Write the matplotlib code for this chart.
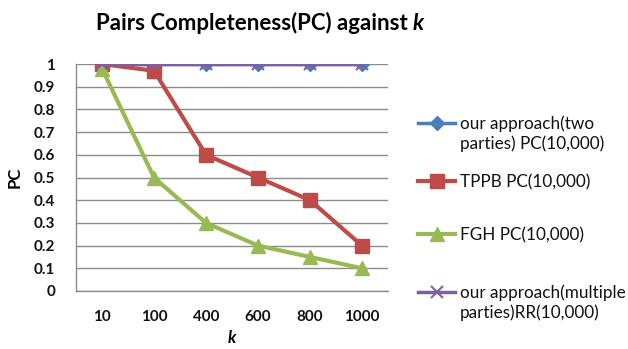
import matplotlib.pyplot as plt
from matplotlib.lines import Line2D
import numpy as np

# PC values per k for each method
k_labels = ["10", "100", "400", "600", "800", "1000"]
two_parties = [1, 1, 1, 1, 1, 1]
tppb = [1, 0.97, 0.6, 0.5, 0.4, 0.2]
fgh = [0.98, 0.5, 0.3, 0.2, 0.15, 0.1]
multi_parties = [1, 1, 1, 1, 1, 1]

series_labels = [
    "our approach(two\nparties) PC(10,000)",
    "TPPB PC(10,000)",
    "FGH PC(10,000)",
    "our approach(multiple\nparties)RR(10,000)",
]

plt.rcParams["font.family"] = ["Lato", "DejaVu Sans"]

W, H = 628, 349
fig = plt.figure(figsize=(W / 100, H / 100), dpi=100)
ax = fig.add_axes([76 / W, 1 - 291 / H, 312 / W, 227 / H])

x = np.arange(len(k_labels))
styles = [
    dict(color="#4A7EBB", marker="D", markersize=7, lw=2.5, zorder=3),
    dict(color="#BE4B48", marker="s", markersize=10, lw=3, zorder=3),
    dict(color="#98B954", marker="^", markersize=10, lw=3, zorder=3),
    dict(color="#7D60A0", marker="x", markersize=8, mew=1.5, lw=2.5, zorder=4),
]
for ys, st in zip([two_parties, tppb, fgh, multi_parties], styles):
    ax.plot(x, ys, **st)

ax.set_xlim(-0.5, len(k_labels) - 0.5)
ax.set_ylim(0, 1)
ax.set_yticks(np.arange(0, 1.01, 0.1))
ax.set_yticklabels(["0", "0.1", "0.2", "0.3", "0.4", "0.5", "0.6", "0.7",
                    "0.8", "0.9", "1"])
ax.set_xticks(x)
ax.set_xticklabels(k_labels)
ax.tick_params(axis="both", labelsize=11, colors="#111111", length=0)
ax.tick_params(axis="y", pad=15)
ax.tick_params(axis="x", pad=14)
for lab in ax.get_xticklabels() + ax.get_yticklabels():
    lab.set_fontweight("bold")

ax.grid(axis="y", color="#8c8c8c", lw=1)
ax.set_axisbelow(True)
for side in ["top", "right"]:
    ax.spines[side].set_visible(False)
for side in ["left", "bottom"]:
    ax.spines[side].set_color("#8c8c8c")
    ax.spines[side].set_linewidth(1)

ax.set_xlabel("k", fontsize=12, fontweight="bold", style="italic", labelpad=4)
ax.set_ylabel("PC", fontsize=12, fontweight="bold", labelpad=8)

# title: upright text followed by an italic k, centred as one line
title_x, title_y = 260 / W, 1 - 23 / H
t1 = fig.text(0, title_y, "Pairs Completeness(PC) against ", fontsize=16,
              fontweight="bold", ha="left", va="center")
t2 = fig.text(0, title_y, "k", fontsize=16, fontweight="bold",
              style="italic", ha="left", va="center")
renderer = fig.canvas.get_renderer()
w1 = t1.get_window_extent(renderer).width / fig.bbox.width
w2 = t2.get_window_extent(renderer).width / fig.bbox.width
x0 = title_x - (w1 + w2) / 2
t1.set_x(x0)
t2.set_x(x0 + w1)

# legend entries, the key sits on the first line of each label
entry_rows = [123, 181, 234, 292]
line_gap = 20
for label, st, row in zip(series_labels, styles, entry_rows):
    yf = 1 - row / H
    fig.add_artist(Line2D([418 / W, 455 / W], [yf, yf], transform=fig.transFigure,
                          color=st["color"], lw=st["lw"]))
    fig.add_artist(Line2D([436.5 / W], [yf], transform=fig.transFigure,
                          color=st["color"], marker=st["marker"],
                          markersize=st["markersize"], mew=st.get("mew", 1)))
    for i, part in enumerate(label.split("\n")):
        fig.text(460 / W, 1 - (row + 6 + i * line_gap) / H, part,
                 fontsize=12.3, color="#111111", ha="left", va="baseline")

fig.savefig("out.png", dpi=100)
